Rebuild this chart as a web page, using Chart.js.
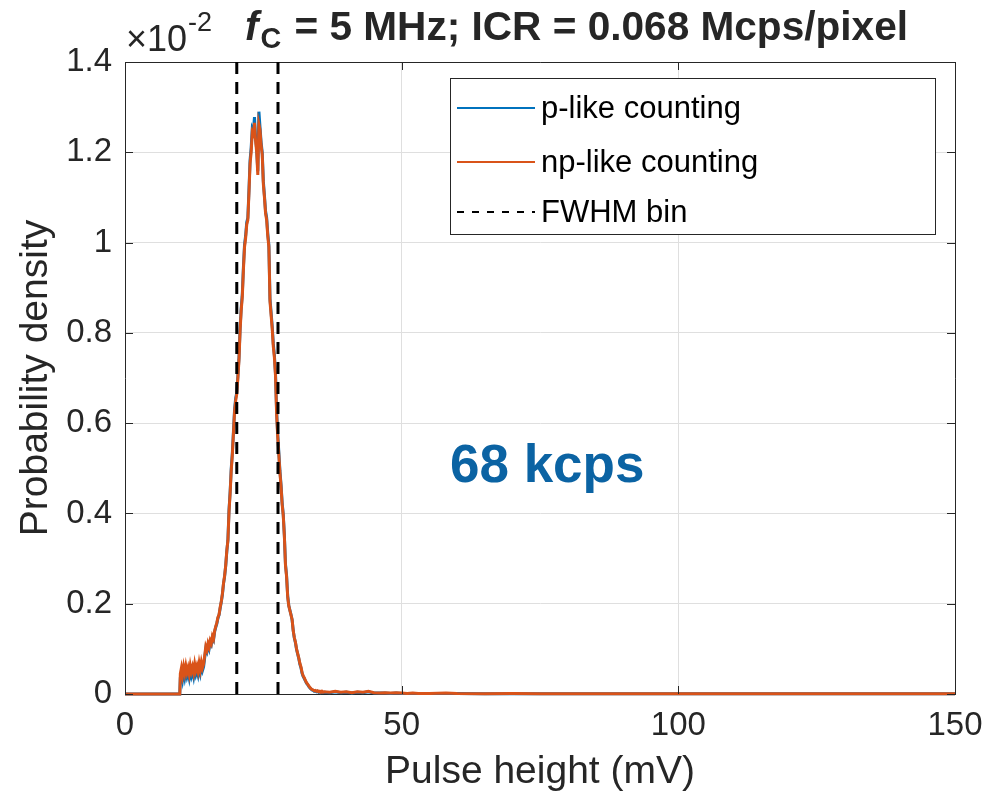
<!DOCTYPE html>
<html>
<head>
<meta charset="utf-8">
<script src="https://cdn.jsdelivr.net/npm/chart.js@4.4.0/dist/chart.umd.min.js"></script>
<style>
  html, body { margin: 0; padding: 0; background: #fff; }
</style>
</head>
<body>
<canvas id="PulseHeight" width="989" height="802"></canvas>
<script>
// pulse height bins (mV)
const pulseHeight = [
  0, 9.9,
  10.0, 10.2, 10.4, 10.6, 10.8, 11.0, 11.2, 11.4, 11.6, 11.8,
  12.0, 12.2, 12.4, 12.6, 12.8, 13.0, 13.2, 13.4, 13.6, 13.8,
  14.0, 14.2, 14.4, 14.6, 14.8, 15.0, 15.2, 15.4, 15.6, 15.8,
  16.0, 16.2, 16.4, 16.6, 16.8, 17.0, 17.2, 17.4, 17.6, 17.8,
  18.0, 18.2, 18.4, 18.6, 18.8, 19.0, 19.2, 19.4, 19.6, 19.8,
  20.0, 20.2, 20.4, 20.6, 20.8, 21.0, 21.2, 21.4, 21.6, 21.8,
  22.0, 22.2, 22.4, 22.6, 22.8, 23.0, 23.2, 23.4, 23.6, 23.8,
  24.0, 24.2, 24.4, 24.6, 24.8, 25.0, 25.2, 25.4, 25.6, 25.8,
  26.0, 26.2, 26.4, 26.6, 26.8, 27.0, 27.2, 27.4, 27.6, 27.8,
  28.0, 28.2, 28.4, 28.6, 28.8, 29.0, 29.2, 29.4, 29.6, 29.8,
  30.0, 30.2, 30.4, 30.6, 30.8, 31.0, 31.2, 31.4, 31.6, 31.8,
  32.0, 32.2, 32.4, 32.6, 32.8, 33.0, 33.2, 33.4, 33.6, 33.8,
  34.0, 34.2, 34.4, 34.6, 34.8, 35.0, 35.2, 35.4, 35.6, 35.8,
  36.0,
  37, 38, 39, 40, 41, 42, 43, 44, 45, 46, 47, 48, 49, 50, 51, 52, 53,
  55, 58, 60, 65, 70, 75, 80, 90, 100, 110, 120, 130, 140, 150
];

// probability density, x 1e-2
const pLike = [
  0, 0,
  0.036, 0.047, 0.032, 0.050, 0.036, 0.050, 0.038, 0.047, 0.035, 0.052,
  0.040, 0.050, 0.038, 0.055, 0.043, 0.052, 0.042, 0.058, 0.046, 0.062,
  0.052, 0.060, 0.080, 0.100, 0.094, 0.108, 0.100, 0.115, 0.110, 0.125,
  0.120, 0.138, 0.148, 0.156, 0.168, 0.175, 0.190, 0.204, 0.220, 0.244,
  0.260, 0.284, 0.316, 0.342, 0.408, 0.448, 0.500, 0.534, 0.582, 0.630,
  0.655, 0.668, 0.704, 0.745, 0.810, 0.855, 0.886, 0.946, 0.995, 1.015,
  1.045, 1.055, 1.115, 1.182, 1.210, 1.252, 1.246, 1.278, 1.232, 1.206,
  1.158, 1.290, 1.256, 1.222, 1.200, 1.136, 1.104, 1.070, 1.055, 1.020,
  0.995, 0.876, 0.846, 0.815, 0.776, 0.750, 0.710, 0.626, 0.575, 0.536,
  0.494, 0.464, 0.424, 0.398, 0.352, 0.288, 0.262, 0.218, 0.196, 0.186,
  0.176, 0.164, 0.141, 0.124, 0.114, 0.099, 0.089, 0.079, 0.066, 0.058,
  0.046, 0.039, 0.034, 0.029, 0.024, 0.021, 0.017, 0.014, 0.011, 0.009,
  0.008, 0.006, 0.007, 0.005, 0.006, 0.004, 0.005, 0.003, 0.005, 0.003,
  0.004,
  0.003, 0.005, 0.003, 0.004, 0.002, 0.004, 0.003, 0.005, 0.002, 0.002, 0.002, 0.001, 0.002, 0.001, 0.001, 0.001, 0.001,
  0.001, 0.001, 0.001, 0.0005, 0.0005, 0.0005, 0.0005, 0.0005, 0.0005, 0.0005, 0.0003, 0.0003, 0.0003, 0.0003
];

const npLike = [
  0, 0,
  0.045, 0.058, 0.042, 0.060, 0.046, 0.062, 0.048, 0.058, 0.044, 0.063,
  0.050, 0.060, 0.047, 0.066, 0.052, 0.062, 0.050, 0.068, 0.054, 0.070,
  0.058, 0.066, 0.085, 0.105, 0.098, 0.112, 0.104, 0.118, 0.112, 0.128,
  0.122, 0.140, 0.150, 0.158, 0.170, 0.176, 0.192, 0.205, 0.222, 0.245,
  0.262, 0.285, 0.318, 0.340, 0.405, 0.445, 0.495, 0.530, 0.578, 0.625,
  0.650, 0.665, 0.700, 0.740, 0.805, 0.850, 0.880, 0.940, 0.990, 1.010,
  1.040, 1.050, 1.110, 1.175, 1.200, 1.245, 1.240, 1.265, 1.225, 1.200,
  1.150, 1.262, 1.250, 1.215, 1.195, 1.130, 1.100, 1.065, 1.050, 1.015,
  0.990, 0.870, 0.840, 0.810, 0.770, 0.745, 0.705, 0.620, 0.570, 0.530,
  0.490, 0.460, 0.420, 0.395, 0.350, 0.285, 0.260, 0.215, 0.195, 0.185,
  0.175, 0.165, 0.140, 0.125, 0.115, 0.100, 0.090, 0.080, 0.068, 0.060,
  0.048, 0.040, 0.036, 0.030, 0.025, 0.022, 0.018, 0.015, 0.012, 0.010,
  0.009, 0.007, 0.008, 0.006, 0.007, 0.005, 0.006, 0.004, 0.006, 0.004,
  0.005,
  0.004, 0.006, 0.004, 0.005, 0.003, 0.005, 0.004, 0.006, 0.003, 0.002, 0.003, 0.002, 0.003, 0.002, 0.001, 0.002, 0.001,
  0.001, 0.002, 0.001, 0.0005, 0.001, 0.0005, 0.0005, 0.0005, 0.0005, 0.0005, 0.0003, 0.0003, 0.0003, 0.0003
];

const fwhmBin = [20.2, 27.65];
const xTicks = [0, 50, 100, 150];
const yTicks = [0, 0.2, 0.4, 0.6, 0.8, 1.0, 1.2, 1.4];
const seriesNames = ['p-like counting', 'np-like counting', 'FWHM bin'];
const rateLabel = '68 kcps';

const FONT = '"Liberation Sans", Arial, Helvetica, sans-serif';
const INK = '#262626';
const BLUE = '#0072BD';
const ORANGE = '#D95319';

function points(ys) {
  return pulseHeight.map((x, i) => ({ x: x, y: ys[i] }));
}

function vline(x) {
  return [{ x: x, y: yTicks[0] }, { x: x, y: yTicks[yTicks.length - 1] }];
}

const matlabFrame = {
  id: 'matlabFrame',
  beforeDatasetsDraw(chart) {
    const { ctx, chartArea: a } = chart;
    ctx.save();
    ctx.strokeStyle = INK;
    ctx.lineWidth = 1;
    ctx.beginPath();
    ctx.moveTo(a.left, a.top + 0.5);
    ctx.lineTo(a.right + 0.5, a.top + 0.5);
    ctx.lineTo(a.right + 0.5, a.bottom);
    ctx.stroke();
    ctx.restore();
  },
  afterDatasetsDraw(chart) {
    const { ctx, chartArea: a, scales } = chart;
    const len = 8;
    ctx.save();
    ctx.strokeStyle = INK;
    ctx.lineWidth = 1;
    ctx.beginPath();
    xTicks.forEach(v => {
      const px = Math.round(scales.x.getPixelForValue(v)) + 0.5;
      ctx.moveTo(px, a.bottom); ctx.lineTo(px, a.bottom - len);
      ctx.moveTo(px, a.top); ctx.lineTo(px, a.top + len);
    });
    yTicks.forEach(v => {
      const py = Math.round(scales.y.getPixelForValue(v)) + 0.5;
      ctx.moveTo(a.left, py); ctx.lineTo(a.left + len, py);
      ctx.moveTo(a.right, py); ctx.lineTo(a.right - len, py);
    });
    ctx.stroke();
    ctx.restore();
  },
  afterDraw(chart) {
    const { ctx, chartArea: a, scales } = chart;
    ctx.save();
    ctx.fillStyle = INK;
    ctx.textBaseline = 'alphabetic';

    // exponent of the y axis
    ctx.font = '36px ' + FONT;
    ctx.fillText('\u00d710', a.left + 1, 51);
    const ew = ctx.measureText('\u00d710').width;
    ctx.font = '27px ' + FONT;
    ctx.fillText('-2', a.left + 2 + ew, 31);

    // title: f_C = ...
    const rest = ' = 5 MHz; ICR = 0.068 Mcps/pixel';
    ctx.font = 'italic bold 41px ' + FONT;
    const fw = ctx.measureText('f').width;
    ctx.font = 'bold 29px ' + FONT;
    const cw = ctx.measureText('C').width;
    ctx.font = 'bold 41px ' + FONT;
    const rw = ctx.measureText(rest).width;
    const x0 = 245, x1 = 908;
    const sx = (x1 - x0) / (fw + cw + 4 + rw);
    ctx.translate(x0, 0);
    ctx.scale(sx, 1);
    ctx.font = 'italic bold 41px ' + FONT;
    ctx.fillText('f', 0, 40);
    ctx.font = 'bold 29px ' + FONT;
    ctx.fillText('C', fw + 2, 48);
    ctx.font = 'bold 41px ' + FONT;
    ctx.fillText(rest, fw + cw + 4, 40);
    ctx.setTransform(1, 0, 0, 1, 0, 0);

    // count-rate annotation
    ctx.font = 'bold 53px ' + FONT;
    ctx.fillStyle = '#0b63a3';
    ctx.textAlign = 'center';
    ctx.fillText(rateLabel, scales.x.getPixelForValue(76.3), scales.y.getPixelForValue(0.47));
    ctx.textAlign = 'left';

    // legend
    const bx = 450, by = 78, bw = a.right - 20 - bx, bh = 156;
    ctx.fillStyle = '#fff';
    ctx.fillRect(bx, by, bw, bh);
    ctx.strokeStyle = INK;
    ctx.lineWidth = 1;
    ctx.strokeRect(bx + 0.5, by + 0.5, bw, bh);
    const rows = [108, 162, 212];
    const ds = chart.data.datasets;
    ctx.font = '31px ' + FONT;
    ctx.textBaseline = 'middle';
    rows.forEach((ry, i) => {
      ctx.beginPath();
      ctx.strokeStyle = ds[i].borderColor;
      ctx.lineWidth = 2;
      ctx.setLineDash(i === 2 ? [7, 8] : []);
      ctx.moveTo(457, ry); ctx.lineTo(535, ry);
      ctx.stroke();
      ctx.setLineDash([]);
      ctx.fillStyle = '#000';
      ctx.fillText(seriesNames[i], 541, ry + 1);
    });
    ctx.restore();
  }
};

const ctx = document.getElementById('PulseHeight').getContext('2d');

new Chart(ctx, {
  type: 'line',
  data: {
    datasets: [
      {
        label: seriesNames[0],
        data: points(pLike),
        borderColor: BLUE,
        borderWidth: 3,
        pointRadius: 0,
        tension: 0,
        order: 3,
        clip: 4,
      },
      {
        label: seriesNames[1],
        data: points(npLike),
        borderColor: ORANGE,
        borderWidth: 3,
        pointRadius: 0,
        tension: 0,
        order: 2,
        clip: 4,
      },
      {
        label: seriesNames[2],
        data: vline(fwhmBin[0]),
        borderColor: '#000',
        borderWidth: 3,
        borderDash: [12, 8],
        pointRadius: 0,
        order: 1,
      },
      {
        label: seriesNames[2] + ' (upper)',
        data: vline(fwhmBin[1]),
        borderColor: '#000',
        borderWidth: 3,
        borderDash: [12, 8],
        pointRadius: 0,
        order: 1,
      },
    ],
  },
  options: {
    responsive: false,
    animation: false,
    layout: {
      padding: { left: 0, right: 34, top: 62, bottom: 0 },
    },
    scales: {
      x: {
        type: 'linear',
        min: 0,
        max: 150,
        afterBuildTicks: s => { s.ticks = xTicks.map(v => ({ value: v })); },
        afterFit: s => { s.height = 108; s.paddingLeft = 0; s.paddingRight = 0; },
        ticks: {
          color: INK,
          padding: 12,
          maxRotation: 0,
          font: { family: FONT, size: 33 },
        },
        grid: { color: '#dfdfdf', drawTicks: false },
        border: { color: INK, width: 1 },
        title: {
          display: true,
          text: 'Pulse height (mV)',
          color: INK,
          font: { family: FONT, size: 39 },
          padding: { top: 0, bottom: 6 },
        },
      },
      y: {
        min: 0,
        max: 1.4,
        afterBuildTicks: s => { s.ticks = yTicks.map(v => ({ value: v })); },
        afterFit: s => { s.width = 125; s.paddingTop = 0; s.paddingBottom = 0; },
        ticks: {
          color: INK,
          padding: 13,
          font: { family: FONT, size: 33 },
          callback: v => String(+v.toFixed(1)),
        },
        grid: { color: '#dfdfdf', drawTicks: false },
        border: { color: INK, width: 1 },
        title: {
          display: true,
          text: 'Probability density',
          color: INK,
          font: { family: FONT, size: 39 },
          padding: { top: 13, bottom: 0 },
        },
      },
    },
    plugins: {
      legend: { display: false },
      tooltip: { enabled: false },
    },
  },
  plugins: [matlabFrame],
});
</script>
</body>
</html>
